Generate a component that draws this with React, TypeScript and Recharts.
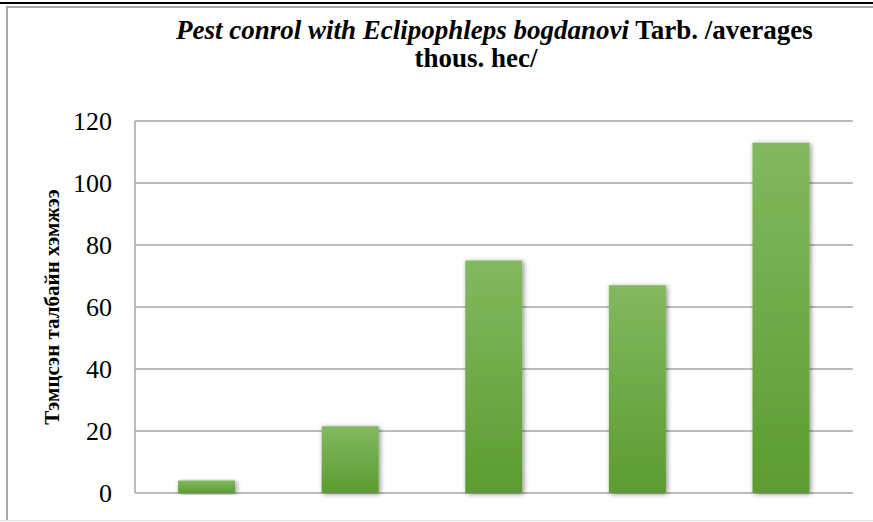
import React from "react";
import { BarChart, Bar, XAxis, YAxis, CartesianGrid, Label } from "recharts";

const categories = ["1", "2", "3", "4", "5"];
const areaValues = [4, 21.5, 75, 67, 113];
const yTicks = [0, 20, 40, 60, 80, 100, 120];

const data = categories.map((c, i) => ({ name: c, value: areaValues[i] }));

const serif = "'Times New Roman', 'Liberation Serif', Tinos, 'DejaVu Serif', serif";

export default function App() {
  return (
    <div style={{ position: "fixed", left: 0, top: 0, width: 873, height: 522, background: "#fff", fontFamily: serif }}>
      {/* frame */}
      <div style={{ position: "absolute", left: 0, top: 2, width: 873, height: 2, background: "#000" }} />
      <div style={{ position: "absolute", left: 6, top: 6, width: 880, height: 513, borderLeft: "2px solid #a6a6a6", borderTop: "2px solid #a6a6a6" }} />
      <div style={{ position: "absolute", left: 0, top: 520, width: 873, height: 1, background: "#e3e3e3" }} />

      <div
        style={{
          position: "absolute",
          left: 176,
          top: 16,
          width: 600,
          textAlign: "center",
          fontSize: 27,
          fontWeight: "bold",
          lineHeight: "28px",
          whiteSpace: "nowrap",
          color: "#000",
        }}
      >
        <i>Pest conrol with Eclipophleps bogdanovi</i> Tarb. /averages
        <br />
        thous. hec/
      </div>

      <div style={{ position: "absolute", left: 0, top: 0 }}>
        <BarChart
          width={873}
          height={522}
          data={data}
          margin={{ top: 121, right: 20, bottom: 29, left: 35 }}
          barCategoryGap="30%"
        >
          <defs>
            <linearGradient id="barFill" x1="0" y1="0" x2="0" y2="1">
              <stop offset="0%" stopColor="#82b960" />
              <stop offset="100%" stopColor="#5c9c31" />
            </linearGradient>
            <filter id="barShadow" x="-30%" y="-10%" width="160%" height="120%">
              <feDropShadow dx="1.5" dy="1" stdDeviation="2.5" floodColor="#000" floodOpacity="0.45" />
            </filter>
          </defs>
          <CartesianGrid vertical={false} stroke="#a6a6a6" strokeWidth={1.5} />
          <XAxis dataKey="name" hide />
          <YAxis
            width={100}
            domain={[0, 120]}
            ticks={yTicks}
            interval={0}
            tickLine={false}
            tickSize={6}
            tickMargin={17}
            axisLine={{ stroke: "#a6a6a6", strokeWidth: 1.5 }}
            tick={{ fill: "#000", fontSize: 26, fontFamily: serif }}
          >
            <Label
              content={({ viewBox }: any) => {
                const cy = viewBox.y + viewBox.height / 2;
                return (
                  <text
                    x={52}
                    y={cy}
                    transform={`rotate(-90, 52, ${cy})`}
                    textAnchor="middle"
                    dominantBaseline="central"
                    fontSize={21}
                    fontWeight="bold"
                    fontFamily={serif}
                    fill="#000"
                  >
                    Тэмцсэн талбайн хэмжээ
                  </text>
                );
              }}
            />
          </YAxis>
          <Bar dataKey="value" fill="url(#barFill)" filter="url(#barShadow)" isAnimationActive={false} />
        </BarChart>
      </div>
    </div>
  );
}
